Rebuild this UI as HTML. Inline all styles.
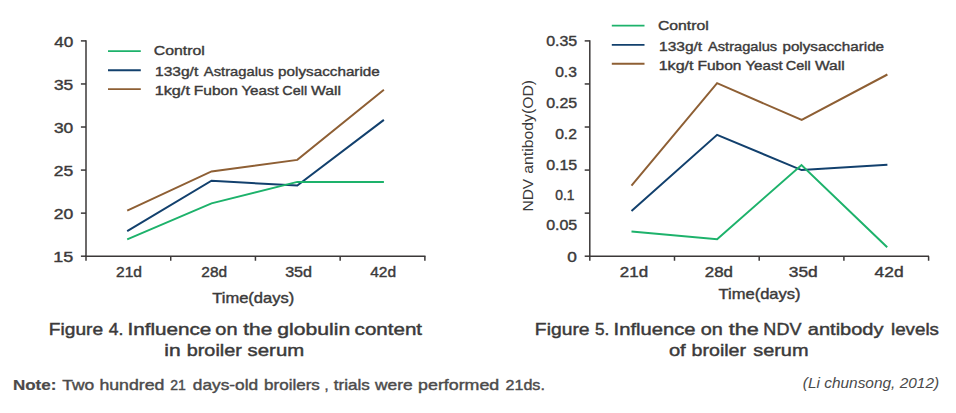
<!DOCTYPE html>
<html lang="en">
<head>
<meta charset="utf-8">
<title>Figure 4 and Figure 5</title>
<style>
html,body{margin:0;padding:0;background:#ffffff;}
body{width:956px;height:413px;overflow:hidden;}
svg{display:block;}
svg text{font-family:"Liberation Sans",sans-serif;fill:#3b3a3a;}
</style>
</head>
<body>
<svg width="956" height="413" viewBox="0 0 956 413">
<rect x="0" y="0" width="956" height="413" fill="#ffffff"/>
<g id="figure4">
<line x1="86" y1="40.15" x2="86" y2="256.95" stroke="#3b3838" stroke-width="1.5"/>
<line x1="85.25" y1="256.2" x2="425.5" y2="256.2" stroke="#3b3838" stroke-width="1.5"/>
<line x1="80.9" y1="40.9" x2="86" y2="40.9" stroke="#3b3838" stroke-width="1.5"/>
<line x1="80.9" y1="83.96000000000001" x2="86" y2="83.96000000000001" stroke="#3b3838" stroke-width="1.5"/>
<line x1="80.9" y1="127.02000000000001" x2="86" y2="127.02000000000001" stroke="#3b3838" stroke-width="1.5"/>
<line x1="80.9" y1="170.08" x2="86" y2="170.08" stroke="#3b3838" stroke-width="1.5"/>
<line x1="80.9" y1="213.14000000000001" x2="86" y2="213.14000000000001" stroke="#3b3838" stroke-width="1.5"/>
<line x1="80.9" y1="256.2" x2="86" y2="256.2" stroke="#3b3838" stroke-width="1.5"/>
<line x1="86.0" y1="256.2" x2="86.0" y2="260.75" stroke="#3b3838" stroke-width="1.5"/>
<line x1="170.72" y1="256.2" x2="170.72" y2="260.75" stroke="#3b3838" stroke-width="1.5"/>
<line x1="255.44" y1="256.2" x2="255.44" y2="260.75" stroke="#3b3838" stroke-width="1.5"/>
<line x1="340.15999999999997" y1="256.2" x2="340.15999999999997" y2="260.75" stroke="#3b3838" stroke-width="1.5"/>
<line x1="424.88" y1="256.2" x2="424.88" y2="260.75" stroke="#3b3838" stroke-width="1.5"/>
<text y="46.7" font-size="14.5" stroke="#3b3a3a" stroke-width="0.4"><tspan x="54.17" textLength="19.05" lengthAdjust="spacingAndGlyphs">40</tspan></text>
<text y="89.76" font-size="14.5" stroke="#3b3a3a" stroke-width="0.4"><tspan x="53.9" textLength="19.33" lengthAdjust="spacingAndGlyphs">35</tspan></text>
<text y="132.82" font-size="14.5" stroke="#3b3a3a" stroke-width="0.4"><tspan x="53.9" textLength="19.33" lengthAdjust="spacingAndGlyphs">30</tspan></text>
<text y="175.88" font-size="14.5" stroke="#3b3a3a" stroke-width="0.4"><tspan x="53.72" textLength="19.52" lengthAdjust="spacingAndGlyphs">25</tspan></text>
<text y="218.94" font-size="14.5" stroke="#3b3a3a" stroke-width="0.4"><tspan x="53.72" textLength="19.52" lengthAdjust="spacingAndGlyphs">20</tspan></text>
<text y="262.0" font-size="14.5" stroke="#3b3a3a" stroke-width="0.4"><tspan x="53.25" textLength="20.01" lengthAdjust="spacingAndGlyphs">15</tspan></text>
<text y="276.6" font-size="14.5" stroke="#3b3a3a" stroke-width="0.4"><tspan x="116.02" textLength="26.05" lengthAdjust="spacingAndGlyphs">21d</tspan></text>
<text y="276.6" font-size="14.5" stroke="#3b3a3a" stroke-width="0.4"><tspan x="201.33" textLength="25.73" lengthAdjust="spacingAndGlyphs">28d</tspan></text>
<text y="276.6" font-size="14.5" stroke="#3b3a3a" stroke-width="0.4"><tspan x="285.15" textLength="26.95" lengthAdjust="spacingAndGlyphs">35d</tspan></text>
<text y="276.6" font-size="14.5" stroke="#3b3a3a" stroke-width="0.4"><tspan x="370.21" textLength="25.95" lengthAdjust="spacingAndGlyphs">42d</tspan></text>
<text y="302.8" font-size="14.5" stroke="#3b3a3a" stroke-width="0.4"><tspan x="212.27" textLength="81.98" lengthAdjust="spacingAndGlyphs">Time(days)</tspan></text>
<line x1="108" y1="51.1" x2="140.8" y2="51.1" stroke="#1db26b" stroke-width="1.9"/>
<line x1="108" y1="70.2" x2="140.8" y2="70.2" stroke="#12406d" stroke-width="1.9"/>
<line x1="108" y1="89.1" x2="140.8" y2="89.1" stroke="#8e5f34" stroke-width="1.9"/>
<text y="55.1" font-size="13.5" stroke="#3b3a3a" stroke-width="0.4"><tspan x="153.81" textLength="51.08" lengthAdjust="spacingAndGlyphs">Control</tspan></text>
<text y="75.8" font-size="13.5" stroke="#3b3a3a" stroke-width="0.4"><tspan x="155.03" textLength="43.25" lengthAdjust="spacingAndGlyphs">133g/t</tspan> <tspan x="203.83" textLength="69.69" lengthAdjust="spacingAndGlyphs">Astragalus</tspan> <tspan x="278.11" textLength="101.69" lengthAdjust="spacingAndGlyphs">polysaccharide</tspan></text>
<text y="94.8" font-size="13.5" stroke="#3b3a3a" stroke-width="0.4"><tspan x="154.68" textLength="35.25" lengthAdjust="spacingAndGlyphs">1kg/t</tspan> <tspan x="193.86" textLength="43.96" lengthAdjust="spacingAndGlyphs">Fubon</tspan> <tspan x="241.42" textLength="37.36" lengthAdjust="spacingAndGlyphs">Yeast</tspan> <tspan x="282.38" textLength="24.79" lengthAdjust="spacingAndGlyphs">Cell</tspan> <tspan x="311.12" textLength="29.93" lengthAdjust="spacingAndGlyphs">Wall</tspan></text>
<polyline points="127.2,210.6 211.5,171.4 297.3,159.9 383.9,89.7" fill="none" stroke="#8e5f34" stroke-width="2" stroke-linejoin="miter" stroke-linecap="butt"/>
<polyline points="127.2,231.2 211.5,180.7 297.3,185.6 383.9,119.9" fill="none" stroke="#12406d" stroke-width="2" stroke-linejoin="miter" stroke-linecap="butt"/>
<polyline points="127.2,239.3 211.5,203.4 297.3,181.9 383.9,181.9" fill="none" stroke="#1db26b" stroke-width="2" stroke-linejoin="miter" stroke-linecap="butt"/>
<text y="334.6" font-size="17.4" stroke="#3b3a3a" stroke-width="0.45"><tspan x="48.89" textLength="54.23" lengthAdjust="spacingAndGlyphs">Figure</tspan> <tspan x="108.79" textLength="14.64" lengthAdjust="spacingAndGlyphs">4.</tspan> <tspan x="127.46" textLength="83.91" lengthAdjust="spacingAndGlyphs">Influence</tspan> <tspan x="215.33" textLength="22.19" lengthAdjust="spacingAndGlyphs">on</tspan> <tspan x="243.31" textLength="29.01" lengthAdjust="spacingAndGlyphs">the</tspan> <tspan x="277.28" textLength="72.92" lengthAdjust="spacingAndGlyphs">globulin</tspan> <tspan x="354.6" textLength="67.49" lengthAdjust="spacingAndGlyphs">content</tspan></text>
<text y="355.8" font-size="17.4" stroke="#3b3a3a" stroke-width="0.45"><tspan x="164.26" textLength="16.35" lengthAdjust="spacingAndGlyphs">in</tspan> <tspan x="186.74" textLength="55.12" lengthAdjust="spacingAndGlyphs">broiler</tspan> <tspan x="247.61" textLength="56.55" lengthAdjust="spacingAndGlyphs">serum</tspan></text>
</g>
<text y="389.6" font-size="14.5" font-weight="bold" stroke="#4b4a4a" stroke-width="0.2" fill="#4b4a4a" style="fill:#4b4a4a"><tspan x="12.9" textLength="43.41" lengthAdjust="spacingAndGlyphs">Note:</tspan></text>
<text y="389.6" font-size="14.5" stroke="#4c4b4b" stroke-width="0.4" fill="#4c4b4b" style="fill:#4c4b4b"><tspan x="62.25" textLength="31.93" lengthAdjust="spacingAndGlyphs">Two</tspan> <tspan x="99.46" textLength="64.89" lengthAdjust="spacingAndGlyphs">hundred</tspan> <tspan x="170.3" textLength="15.64" lengthAdjust="spacingAndGlyphs">21</tspan> <tspan x="192.81" textLength="65.31" lengthAdjust="spacingAndGlyphs">days-old</tspan> <tspan x="264.09" textLength="55.78" lengthAdjust="spacingAndGlyphs">broilers</tspan> <tspan x="324.59">,</tspan> <tspan x="333.84" textLength="36.08" lengthAdjust="spacingAndGlyphs">trials</tspan> <tspan x="375.1" textLength="37.52" lengthAdjust="spacingAndGlyphs">were</tspan> <tspan x="418.14" textLength="81.06" lengthAdjust="spacingAndGlyphs">performed</tspan> <tspan x="505.5" textLength="39.37" lengthAdjust="spacingAndGlyphs">21ds.</tspan></text>
<g id="figure5">
<line x1="589.8" y1="40.15" x2="589.8" y2="256.95" stroke="#3b3838" stroke-width="1.5"/>
<line x1="589.05" y1="256.2" x2="929" y2="256.2" stroke="#3b3838" stroke-width="1.5"/>
<line x1="584.6999999999999" y1="40.9" x2="589.8" y2="40.9" stroke="#3b3838" stroke-width="1.5"/>
<line x1="584.6999999999999" y1="83.96000000000001" x2="589.8" y2="83.96000000000001" stroke="#3b3838" stroke-width="1.5"/>
<line x1="584.6999999999999" y1="127.02000000000001" x2="589.8" y2="127.02000000000001" stroke="#3b3838" stroke-width="1.5"/>
<line x1="584.6999999999999" y1="170.08" x2="589.8" y2="170.08" stroke="#3b3838" stroke-width="1.5"/>
<line x1="584.6999999999999" y1="213.14000000000001" x2="589.8" y2="213.14000000000001" stroke="#3b3838" stroke-width="1.5"/>
<line x1="584.6999999999999" y1="256.2" x2="589.8" y2="256.2" stroke="#3b3838" stroke-width="1.5"/>
<line x1="589.8" y1="256.2" x2="589.8" y2="260.75" stroke="#3b3838" stroke-width="1.5"/>
<line x1="674.5" y1="256.2" x2="674.5" y2="260.75" stroke="#3b3838" stroke-width="1.5"/>
<line x1="759.1999999999999" y1="256.2" x2="759.1999999999999" y2="260.75" stroke="#3b3838" stroke-width="1.5"/>
<line x1="843.9" y1="256.2" x2="843.9" y2="260.75" stroke="#3b3838" stroke-width="1.5"/>
<line x1="928.5999999999999" y1="256.2" x2="928.5999999999999" y2="260.75" stroke="#3b3838" stroke-width="1.5"/>
<text y="46.4" font-size="14.5" stroke="#3b3a3a" stroke-width="0.4"><tspan x="546.16" textLength="31.1" lengthAdjust="spacingAndGlyphs">0.35</tspan></text>
<text y="77.1" font-size="14.5" stroke="#3b3a3a" stroke-width="0.4"><tspan x="555.17" textLength="21.73" lengthAdjust="spacingAndGlyphs">0.3</tspan></text>
<text y="107.7" font-size="14.5" stroke="#3b3a3a" stroke-width="0.4"><tspan x="546.16" textLength="31.1" lengthAdjust="spacingAndGlyphs">0.25</tspan></text>
<text y="138.7" font-size="14.5" stroke="#3b3a3a" stroke-width="0.4"><tspan x="555.17" textLength="21.81" lengthAdjust="spacingAndGlyphs">0.2</tspan></text>
<text y="170.0" font-size="14.5" stroke="#3b3a3a" stroke-width="0.4"><tspan x="546.16" textLength="31.1" lengthAdjust="spacingAndGlyphs">0.15</tspan></text>
<text y="199.6" font-size="14.5" stroke="#3b3a3a" stroke-width="0.4"><tspan x="555.25" textLength="19.25" lengthAdjust="spacingAndGlyphs">0.1</tspan></text>
<text y="230.3" font-size="14.5" stroke="#3b3a3a" stroke-width="0.4"><tspan x="546.16" textLength="31.1" lengthAdjust="spacingAndGlyphs">0.05</tspan></text>
<text y="262.0" font-size="14.5" stroke="#3b3a3a" stroke-width="0.4"><tspan x="567.31" textLength="9.6" lengthAdjust="spacingAndGlyphs">0</tspan></text>
<text y="277.05" font-size="14.5" stroke="#3b3a3a" stroke-width="0.4"><tspan x="619.85" textLength="28.31" lengthAdjust="spacingAndGlyphs">21d</tspan></text>
<text y="277.05" font-size="14.5" stroke="#3b3a3a" stroke-width="0.4"><tspan x="704.75" textLength="28.2" lengthAdjust="spacingAndGlyphs">28d</tspan></text>
<text y="277.05" font-size="14.5" stroke="#3b3a3a" stroke-width="0.4"><tspan x="788.81" textLength="28.99" lengthAdjust="spacingAndGlyphs">35d</tspan></text>
<text y="277.05" font-size="14.5" stroke="#3b3a3a" stroke-width="0.4"><tspan x="874.57" textLength="29.03" lengthAdjust="spacingAndGlyphs">42d</tspan></text>
<text y="299.4" font-size="14.5" stroke="#3b3a3a" stroke-width="0.4"><tspan x="718.47" textLength="82.18" lengthAdjust="spacingAndGlyphs">Time(days)</tspan></text>
<line x1="611.8" y1="25.6" x2="644.5" y2="25.6" stroke="#1db26b" stroke-width="1.9"/>
<line x1="611.8" y1="44.9" x2="644.5" y2="44.9" stroke="#12406d" stroke-width="1.9"/>
<line x1="611.8" y1="63.8" x2="644.5" y2="63.8" stroke="#8e5f34" stroke-width="1.9"/>
<text y="29.6" font-size="13.5" stroke="#3b3a3a" stroke-width="0.4"><tspan x="657.91" textLength="50.87" lengthAdjust="spacingAndGlyphs">Control</tspan></text>
<text y="50.5" font-size="13.5" stroke="#3b3a3a" stroke-width="0.4"><tspan x="659.04" textLength="43.15" lengthAdjust="spacingAndGlyphs">133g/t</tspan> <tspan x="708.03" textLength="69.18" lengthAdjust="spacingAndGlyphs">Astragalus</tspan> <tspan x="782.41" textLength="101.69" lengthAdjust="spacingAndGlyphs">polysaccharide</tspan></text>
<text y="69.5" font-size="13.5" stroke="#3b3a3a" stroke-width="0.4"><tspan x="658.69" textLength="34.83" lengthAdjust="spacingAndGlyphs">1kg/t</tspan> <tspan x="697.46" textLength="43.96" lengthAdjust="spacingAndGlyphs">Fubon</tspan> <tspan x="745.42" textLength="37.36" lengthAdjust="spacingAndGlyphs">Yeast</tspan> <tspan x="785.78" textLength="24.9" lengthAdjust="spacingAndGlyphs">Cell</tspan> <tspan x="814.92" textLength="29.73" lengthAdjust="spacingAndGlyphs">Wall</tspan></text>
<text y="0" font-size="14.5" transform="translate(533.2,211) rotate(-90)"><tspan x="-0.54" textLength="32.74" lengthAdjust="spacingAndGlyphs">NDV</tspan> <tspan x="37.29" textLength="93.79" lengthAdjust="spacingAndGlyphs">antibody(OD)</tspan></text>
<polyline points="631.5,185.7 717.1,83.2 801.7,120 887.4,74.5" fill="none" stroke="#8e5f34" stroke-width="2" stroke-linejoin="miter" stroke-linecap="butt"/>
<polyline points="631.5,211.1 717.1,134.8 801.6,170.1 887.4,164.8" fill="none" stroke="#12406d" stroke-width="2" stroke-linejoin="miter" stroke-linecap="butt"/>
<polyline points="631.5,231.6 717.1,239.2 801.5,165.0 887.2,247.3" fill="none" stroke="#1db26b" stroke-width="2" stroke-linejoin="miter" stroke-linecap="butt"/>
<text y="334.6" font-size="17.4" stroke="#3b3a3a" stroke-width="0.45"><tspan x="534.88" textLength="54.65" lengthAdjust="spacingAndGlyphs">Figure</tspan> <tspan x="595.04" textLength="14.36" lengthAdjust="spacingAndGlyphs">5.</tspan> <tspan x="613.61" textLength="81.85" lengthAdjust="spacingAndGlyphs">Influence</tspan> <tspan x="700.83" textLength="22.08" lengthAdjust="spacingAndGlyphs">on</tspan> <tspan x="728.7" textLength="30.05" lengthAdjust="spacingAndGlyphs">the</tspan> <tspan x="763.39" textLength="38.01" lengthAdjust="spacingAndGlyphs">NDV</tspan> <tspan x="807.82" textLength="75.67" lengthAdjust="spacingAndGlyphs">antibody</tspan> <tspan x="891.01" textLength="47.96" lengthAdjust="spacingAndGlyphs">levels</tspan></text>
<text y="355.5" font-size="17.4" stroke="#3b3a3a" stroke-width="0.45"><tspan x="668.92" textLength="16.84" lengthAdjust="spacingAndGlyphs">of</tspan> <tspan x="691.55" textLength="54.5" lengthAdjust="spacingAndGlyphs">broiler</tspan> <tspan x="753.23" textLength="55.31" lengthAdjust="spacingAndGlyphs">serum</tspan></text>
</g>
<text y="388.3" font-size="15.3" font-style="italic" fill="#4a4a4a" style="fill:#4a4a4a"><tspan x="802.81" textLength="136.31" lengthAdjust="spacingAndGlyphs">(Li chunsong, 2012)</tspan></text>
</svg>
</body>
</html>
